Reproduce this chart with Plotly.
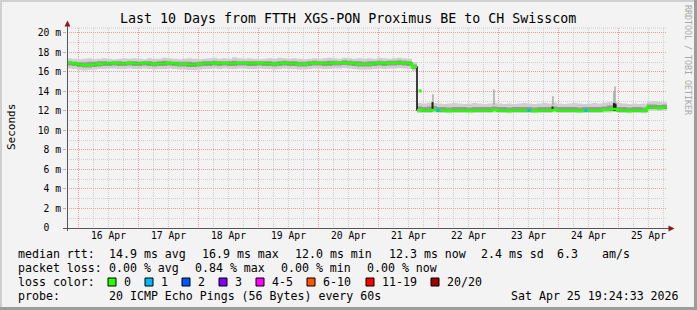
import plotly.graph_objects as go
import pandas as pd

# ---------------- data ----------------
start = "2026-04-15 19:24:33"
end = "2026-04-25 19:24:33"
times = pd.date_range(start, periods=121, freq="2h")

median_ms = [
    16.90, 16.85, 16.75, 16.70, 16.70, 16.75, 16.80, 16.85, 16.85, 16.90, 16.85, 16.85,
    16.90, 16.85, 16.85, 16.90, 16.85, 16.80, 16.85, 16.85, 16.90, 16.85, 16.80, 16.80,
    16.75, 16.75, 16.80, 16.85, 16.85, 16.90, 16.85, 16.90, 16.85, 16.85, 16.90, 16.90,
    16.85, 16.85, 16.90, 16.85, 16.85, 16.80, 16.85, 16.90, 16.85, 16.85, 16.80, 16.80,
    16.85, 16.90, 16.90, 16.85, 16.85, 16.90, 16.90, 16.95, 16.90, 16.85, 16.80, 16.80,
    16.80, 16.85, 16.90, 16.85, 16.90, 16.90, 16.95, 16.90, 16.85, 16.50, 12.10, 12.05,
    12.05, 12.10, 12.05, 12.05, 12.00, 12.05, 12.05, 12.05, 12.00, 12.05, 12.05, 12.05,
    12.05, 12.10, 12.05, 12.05, 12.00, 12.05, 12.05, 12.05, 12.05, 12.00, 12.05, 12.05,
    12.05, 12.10, 12.05, 12.05, 12.05, 12.05, 12.00, 12.05, 12.05, 12.05, 12.05, 12.10,
    12.15, 12.20, 12.05, 12.05, 12.00, 12.05, 12.05, 12.00, 12.35, 12.35, 12.30, 12.35,
    12.35,
]

smoke_outer_hi = [
    17.40, 17.35, 17.30, 17.35, 17.40, 17.30, 17.35, 17.40, 17.35, 17.30, 17.35, 17.40,
    17.35, 17.40, 17.35, 17.30, 17.40, 17.35, 17.35, 17.45, 17.40, 17.35, 17.30, 17.35,
    17.40, 17.35, 17.30, 17.35, 17.40, 17.45, 17.35, 17.40, 17.35, 17.50, 17.40, 17.35,
    17.40, 17.35, 17.30, 17.35, 17.40, 17.35, 17.45, 17.40, 17.35, 17.40, 17.35, 17.30,
    17.35, 17.40, 17.35, 17.40, 17.45, 17.40, 17.35, 17.45, 17.40, 17.35, 17.40, 17.35,
    17.40, 17.35, 17.45, 17.40, 17.35, 17.40, 17.45, 17.40, 17.35, 17.00, 12.80, 12.75,
    12.85, 12.80, 12.75, 12.70, 12.75, 12.80, 12.75, 12.70, 12.75, 12.80, 12.75, 12.70,
    12.75, 12.80, 12.75, 12.70, 12.75, 12.70, 12.75, 12.80, 12.75, 12.70, 12.75, 12.80,
    12.75, 12.85, 12.75, 12.70, 12.75, 12.80, 12.75, 12.70, 12.75, 12.80, 12.75, 12.85,
    12.90, 12.95, 12.80, 12.75, 12.70, 12.75, 12.70, 12.75, 12.95, 13.00, 12.95, 12.90,
    12.95,
]

smoke_mid_hi = [
    17.10, 17.05, 17.00, 17.00, 17.05, 17.05, 17.10, 17.10, 17.05, 17.10, 17.10, 17.05,
    17.10, 17.10, 17.05, 17.10, 17.10, 17.05, 17.10, 17.15, 17.10, 17.05, 17.05, 17.05,
    17.05, 17.00, 17.05, 17.10, 17.10, 17.15, 17.10, 17.10, 17.10, 17.15, 17.10, 17.10,
    17.10, 17.10, 17.10, 17.10, 17.10, 17.05, 17.10, 17.15, 17.10, 17.10, 17.05, 17.05,
    17.10, 17.15, 17.10, 17.10, 17.15, 17.15, 17.10, 17.20, 17.15, 17.10, 17.10, 17.05,
    17.10, 17.10, 17.15, 17.10, 17.15, 17.15, 17.20, 17.15, 17.10, 16.75, 12.45, 12.40,
    12.45, 12.50, 12.40, 12.40, 12.35, 12.40, 12.40, 12.40, 12.35, 12.40, 12.40, 12.40,
    12.40, 12.45, 12.40, 12.40, 12.35, 12.40, 12.40, 12.40, 12.40, 12.35, 12.40, 12.40,
    12.40, 12.45, 12.40, 12.40, 12.40, 12.40, 12.35, 12.40, 12.40, 12.40, 12.40, 12.45,
    12.55, 12.60, 12.40, 12.40, 12.35, 12.40, 12.40, 12.35, 12.65, 12.65, 12.60, 12.65,
    12.65,
]

smoke_mid_lo = [
    16.65, 16.60, 16.50, 16.45, 16.45, 16.50, 16.55, 16.60, 16.60, 16.65, 16.60, 16.60,
    16.65, 16.60, 16.60, 16.65, 16.60, 16.55, 16.60, 16.60, 16.65, 16.60, 16.55, 16.55,
    16.50, 16.50, 16.55, 16.60, 16.60, 16.65, 16.60, 16.65, 16.60, 16.60, 16.65, 16.65,
    16.60, 16.60, 16.65, 16.60, 16.60, 16.55, 16.60, 16.65, 16.60, 16.60, 16.55, 16.55,
    16.60, 16.65, 16.65, 16.60, 16.60, 16.65, 16.65, 16.70, 16.65, 16.60, 16.55, 16.55,
    16.55, 16.60, 16.65, 16.60, 16.65, 16.65, 16.70, 16.65, 16.60, 16.30, 11.95, 11.95,
    11.95, 12.00, 11.95, 11.95, 11.90, 11.95, 11.95, 11.95, 11.90, 11.95, 11.95, 11.95,
    11.95, 12.00, 11.95, 11.95, 11.90, 11.95, 11.95, 11.95, 11.95, 11.90, 11.95, 11.95,
    11.95, 12.00, 11.95, 11.95, 11.95, 11.95, 11.90, 11.95, 11.95, 11.95, 11.95, 12.00,
    12.00, 12.05, 11.95, 11.95, 11.90, 11.95, 11.95, 11.90, 12.20, 12.20, 12.15, 12.20,
    12.20,
]

smoke_outer_lo = [
    16.35, 16.30, 16.20, 16.15, 16.20, 16.25, 16.30, 16.30, 16.35, 16.35, 16.30, 16.30,
    16.35, 16.30, 16.30, 16.35, 16.30, 16.25, 16.30, 16.30, 16.35, 16.30, 16.25, 16.25,
    16.20, 16.20, 16.25, 16.30, 16.30, 16.35, 16.30, 16.35, 16.30, 16.30, 16.35, 16.35,
    16.30, 16.30, 16.35, 16.30, 16.30, 16.25, 16.30, 16.35, 16.30, 16.30, 16.25, 16.25,
    16.30, 16.35, 16.35, 16.30, 16.30, 16.35, 16.35, 16.40, 16.35, 16.30, 16.25, 16.25,
    16.25, 16.30, 16.35, 16.30, 16.35, 16.35, 16.40, 16.35, 16.30, 16.10, 11.80, 11.80,
    11.80, 11.85, 11.80, 11.80, 11.75, 11.80, 11.80, 11.80, 11.75, 11.80, 11.80, 11.80,
    11.80, 11.85, 11.80, 11.80, 11.75, 11.80, 11.80, 11.80, 11.80, 11.75, 11.80, 11.80,
    11.80, 11.85, 11.80, 11.80, 11.80, 11.80, 11.75, 11.80, 11.80, 11.80, 11.80, 11.85,
    11.85, 11.90, 11.80, 11.80, 11.75, 11.80, 11.80, 11.75, 12.05, 12.05, 12.00, 12.05,
    12.05,
]

# occasional single-ping spikes (time, top value in ms)
spike_times = ["2026-04-21 21:48", "2026-04-22 22:12", "2026-04-23 21:48",
               "2026-04-24 22:12", "2026-04-24 22:36"]
spike_tops = [13.7, 14.2, 13.5, 14.0, 14.5]
spike_base = 12.6

# black median excursions
dark_times = ["2026-04-21 21:36", "2026-04-23 21:36", "2026-04-24 22:12", "2026-04-24 22:48"]
dark_tops = [12.9, 12.45, 12.8, 12.75]

# intervals with 1/20 loss (blue)
loss1_times = ["2026-04-21 23:48", "2026-04-23 12:12", "2026-04-24 11:00"]
loss1_vals = [12.05, 12.05, 12.05]

# transitional median during the drop
mid_drop_time = ["2026-04-21 16:40"]
mid_drop_val = [14.05]

y_ticks = [0, 2, 4, 6, 8, 10, 12, 14, 16, 18, 20]
y_labels = ["0\u00a0\u00a0"] + [f"{v} m" for v in y_ticks[1:]]

legend_rows = [
    [("median rtt:", 16), ("14.9 ms avg", 107), ("16.9 ms max", 200), ("12.0 ms min", 293),
     ("12.3 ms now", 387), ("2.4 ms sd", 479), ("6.3", 555), ("am/s", 600)],
    [("packet loss:", 16), ("0.00 % avg", 107), ("0.84 % max", 193), ("0.00 % min", 279),
     ("0.00 % now", 365)],
    [("loss color:", 16)],
    [("probe:", 16), ("20 ICMP Echo Pings (56 Bytes) every 60s", 107)],
]
loss_labels = ["0", "1", "2", "3", "4-5", "6-10", "11-19", "20/20"]
loss_colors = ["#26ff00", "#00b8ff", "#0059ff", "#7e00ff", "#ff00ff", "#ff5500", "#ff0000", "#a10000"]
loss_box_x = [108, 145, 182, 219, 256, 307, 366, 431]
loss_text_x = [122, 159, 196, 233, 270, 321, 380, 445]

# ---------------- geometry helpers (plot area in px) ----------------
W, H = 697, 310
L, R, T, B = 67, 667, 28, 228


def px(x):
    return (x - L) / (R - L)


def py(y):
    return (B - y) / (B - T)


MONO = "DejaVu Sans Mono"
fig = go.Figure()

# smoke bands
fig.add_trace(go.Scatter(x=times, y=smoke_outer_lo, mode="lines", line=dict(width=0, shape="hv"),
                         hoverinfo="skip"))
fig.add_trace(go.Scatter(x=times, y=smoke_outer_hi, mode="lines", line=dict(width=0, shape="hv"),
                         fill="tonexty", fillcolor="#cfcfcf", hoverinfo="skip"))
fig.add_trace(go.Scatter(x=times, y=smoke_mid_lo, mode="lines", line=dict(width=0, shape="hv"),
                         hoverinfo="skip"))
fig.add_trace(go.Scatter(x=times, y=smoke_mid_hi, mode="lines", line=dict(width=0, shape="hv"),
                         fill="tonexty", fillcolor="#9a9a9a", hoverinfo="skip"))

# spikes
sx, sy = [], []
for t, top in zip(spike_times, spike_tops):
    sx += [t, t, None]
    sy += [spike_base, top, None]
fig.add_trace(go.Scatter(x=sx, y=sy, mode="lines", line=dict(width=1.5, color="#aaaaaa"),
                         hoverinfo="skip"))

# median black line
fig.add_trace(go.Scatter(x=times, y=median_ms, mode="lines",
                         line=dict(width=1.5, color="#000000", shape="hv"), hoverinfo="skip"))
dx, dy = [], []
for t, top in zip(dark_times, dark_tops):
    dx += [t, t, None]
    dy += [12.0, top, None]
fig.add_trace(go.Scatter(x=dx, y=dy, mode="lines", line=dict(width=2, color="#222222"),
                         hoverinfo="skip"))

# green median (loss 0), broken at big jumps so the jump stays black
gx, gy = [], []
for i, (t, v) in enumerate(zip(times, median_ms)):
    if i > 0 and abs(v - median_ms[i - 1]) > 1.0:
        gx += [t, None]
        gy += [median_ms[i - 1], None]
    gx.append(t)
    gy.append(v)
fig.add_trace(go.Scatter(x=gx, y=gy, mode="lines",
                         line=dict(width=2.5, color="#26ff00", shape="hv"), hoverinfo="skip"))
fig.add_trace(go.Scatter(x=mid_drop_time, y=mid_drop_val, mode="markers",
                         marker=dict(symbol="square", size=3, color="#26ff00"), hoverinfo="skip"))
fig.add_trace(go.Scatter(x=loss1_times, y=loss1_vals, mode="markers",
                         marker=dict(symbol="square", size=3, color="#00b8ff"), hoverinfo="skip"))

shapes = []
# outer bevel border of the image
shapes.append(dict(type="rect", xref="paper", yref="paper", x0=px(0), x1=px(W), y0=py(H), y1=py(0),
                   line=dict(width=0), fillcolor="#f3f3f3", layer="below"))
shapes.append(dict(type="rect", xref="paper", yref="paper", x0=px(0), x1=px(W), y0=py(2), y1=py(0),
                   line=dict(width=0), fillcolor="#cfcfcf"))
shapes.append(dict(type="rect", xref="paper", yref="paper", x0=px(0), x1=px(2), y0=py(H), y1=py(0),
                   line=dict(width=0), fillcolor="#cfcfcf"))
shapes.append(dict(type="rect", xref="paper", yref="paper", x0=px(W - 3), x1=px(W), y0=py(H), y1=py(0),
                   line=dict(width=0), fillcolor="#9c9c9c"))
shapes.append(dict(type="rect", xref="paper", yref="paper", x0=px(0), x1=px(W), y0=py(H), y1=py(H - 3),
                   line=dict(width=0), fillcolor="#9c9c9c"))
# top dotted line of canvas
shapes.append(dict(type="line", xref="paper", yref="paper", x0=0, x1=1, y0=1, y1=1,
                   line=dict(width=1, color="#cccccc", dash="1px,1px")))
# axes
shapes.append(dict(type="line", xref="paper", yref="paper", x0=px(67.5), x1=px(67.5),
                   y0=py(231), y1=py(24), line=dict(width=1, color="#555555")))
shapes.append(dict(type="line", xref="paper", yref="paper", x0=px(63), x1=px(670),
                   y0=py(228.5), y1=py(228.5), line=dict(width=1, color="#555555")))
# arrows
shapes.append(dict(type="path", xref="paper", yref="paper",
                   path=f"M {px(64.5)} {py(26.5)} L {px(70.5)} {py(26.5)} L {px(67.5)} {py(20.5)} Z",
                   fillcolor="#8b1a1a", line=dict(width=0)))
shapes.append(dict(type="path", xref="paper", yref="paper",
                   path=f"M {px(668.5)} {py(225.5)} L {px(668.5)} {py(231.5)} L {px(674.5)} {py(228.5)} Z",
                   fillcolor="#8b1a1a", line=dict(width=0)))
# loss colour boxes
for bx, col in zip(loss_box_x, loss_colors):
    shapes.append(dict(type="rect", xref="paper", yref="paper", x0=px(bx), x1=px(bx + 8),
                       y0=py(286), y1=py(278), fillcolor=col, line=dict(width=1, color="#000000")))

annotations = []
annotations.append(dict(text="Last 10 Days from FTTH XGS-PON Proximus BE to CH Swisscom",
                        xref="paper", yref="paper", x=px(348), y=py(18.5), xanchor="center",
                        yanchor="middle", showarrow=False, font=dict(family=MONO, size=13.3, color="#000")))
annotations.append(dict(text="Seconds", xref="paper", yref="paper", x=px(11), y=py(127),
                        xanchor="center", yanchor="middle", textangle=-90, showarrow=False,
                        font=dict(family=MONO, size=11, color="#000")))
annotations.append(dict(text="RRDTOOL / TOBI OETIKER", xref="paper", yref="paper", x=px(688),
                        y=py(60), xanchor="center", yanchor="middle", textangle=90, showarrow=False,
                        font=dict(family=MONO, size=8.3, color="#a8a8a8")))
row_y = [254.3, 268.3, 282.0, 295.7]
for row, yy in zip(legend_rows, row_y):
    for txt, xx in row:
        annotations.append(dict(text=txt.replace(" ", "\u00a0"), xref="paper", yref="paper",
                                x=px(xx), y=py(yy), xanchor="left", yanchor="middle", showarrow=False,
                                font=dict(family=MONO, size=11.6, color="#000")))
for txt, xx in zip(loss_labels, loss_text_x):
    annotations.append(dict(text=txt, xref="paper", yref="paper", x=px(xx), y=py(row_y[2]),
                            xanchor="left", yanchor="middle", showarrow=False,
                            font=dict(family=MONO, size=11.6, color="#000")))
annotations.append(dict(text="Sat\u00a0Apr\u00a025\u00a019:24:33\u00a02026", xref="paper", yref="paper",
                        x=px(681), y=py(row_y[3]), xanchor="right", yanchor="middle", showarrow=False,
                        font=dict(family=MONO, size=11.6, color="#000")))

RED_GRID = "#eaa0a0"
GRAY_GRID = "#cfcfcf"

fig.update_layout(
    width=W, height=H,
    margin=dict(l=L, r=W - R, t=T, b=H - B, pad=0),
    paper_bgcolor="#f3f3f3", plot_bgcolor="#ffffff",
    showlegend=False, hovermode=False,
    shapes=shapes, annotations=annotations,
    xaxis=dict(
        type="date", range=[start, end],
        tick0="2026-04-16 00:00:00", dtick=86400000,
        ticklabelmode="period", tickformat="%d %b",
        showgrid=True, gridcolor=RED_GRID, griddash="1px,1px", gridwidth=1,
        ticks="", showline=False, zeroline=False,
        tickfont=dict(family=MONO, size=9.7, color="#000"),
        minor=dict(tick0="2026-04-16 00:00:00", dtick=21600000, showgrid=True,
                   gridcolor=GRAY_GRID, griddash="1px,1px", gridwidth=1),
    ),
    yaxis=dict(
        range=[0, 20.5], tickmode="array", tickvals=y_ticks, ticktext=y_labels,
        showgrid=True, gridcolor=RED_GRID, griddash="1px,1px", gridwidth=1,
        ticks="outside", ticklen=3, tickcolor=RED_GRID, showline=False, zeroline=False,
        tickfont=dict(family=MONO, size=9.7, color="#000"),
        minor=dict(tickmode="linear", tick0=0, dtick=1, showgrid=True,
                   gridcolor=GRAY_GRID, griddash="1px,1px", gridwidth=1),
    ),
)

fig.write_html("out.html", config={"displayModeBar": False})
